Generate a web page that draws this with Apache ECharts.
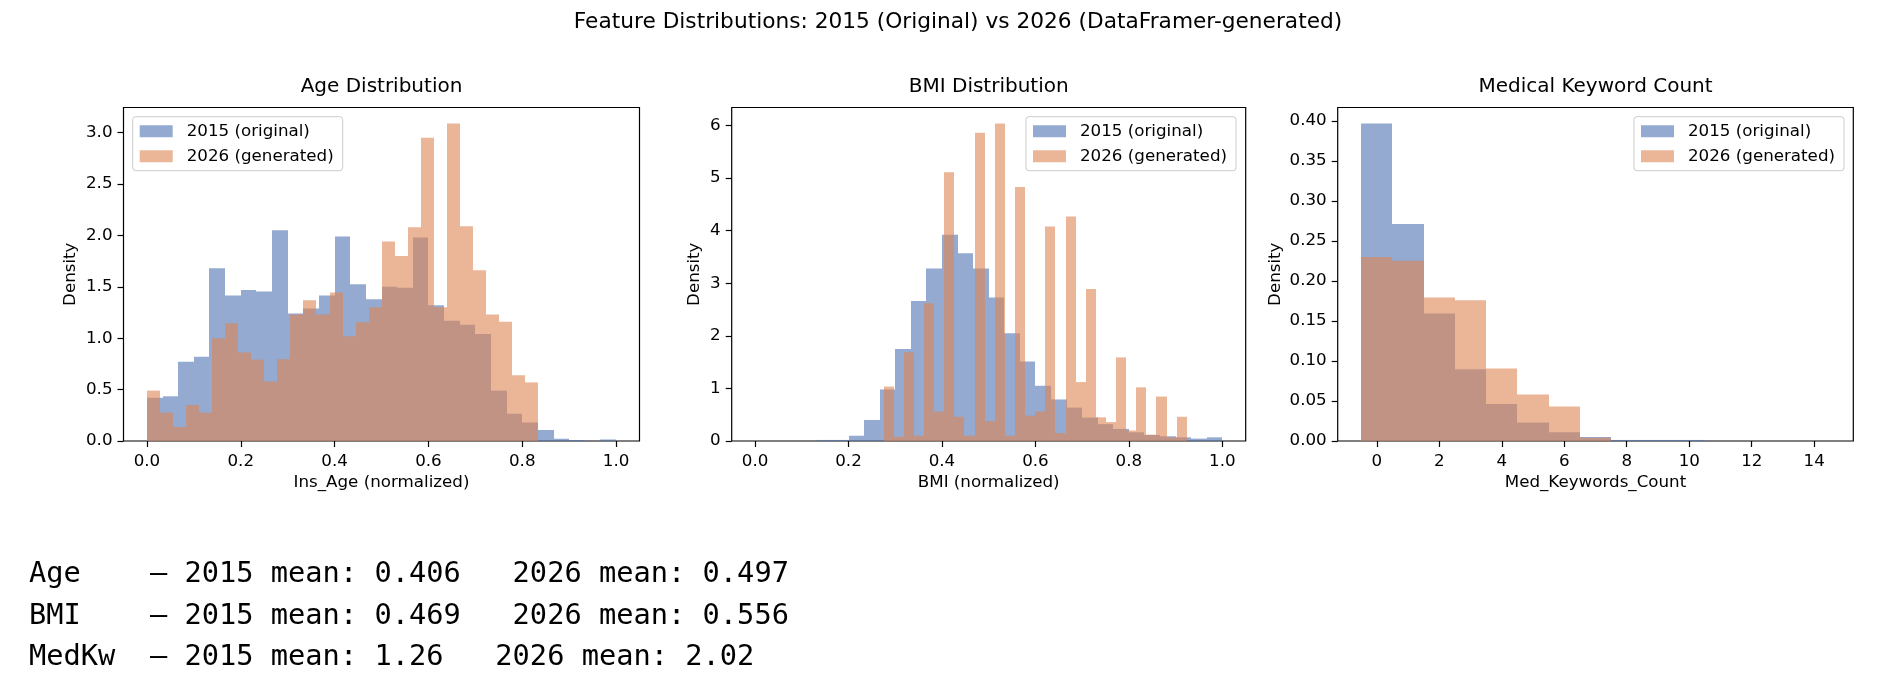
<!DOCTYPE html>
<html>
<head>
<meta charset="utf-8">
<title>Feature Distributions</title>
<script src="https://cdn.jsdelivr.net/npm/echarts@6.0.0/dist/echarts.min.js"></script>
<style>
  html, body { margin: 0; padding: 0; background: #fff; }
  #chart { width: 1892px; height: 690px; }
</style>
</head>
<body>
<div id="chart"></div>
<script>
// density per bin
// Age: 2015 uses 30 bins on [0, 1], 2026 uses 30 bins on [0, 0.834]
var ageRange2015 = [0, 1];
var ageDensity2015 = [0.42, 0.435, 0.77, 0.82, 1.68, 1.415, 1.47, 1.455, 2.05, 1.24,
                      1.29, 1.415, 1.99, 1.525, 1.38, 1.50, 1.49, 1.98, 1.32, 1.17,
                      1.13, 1.04, 0.49, 0.265, 0.18, 0.107, 0.022, 0.01, 0.0, 0.015];
var ageRange2026 = [0, 0.834];
var ageDensity2026 = [0.49, 0.276, 0.136, 0.35, 0.276, 1.00, 1.146, 0.86, 0.79, 0.58,
                      0.795, 1.23, 1.37, 1.23, 1.445, 1.02, 1.156, 1.30, 1.94, 1.80,
                      2.08, 2.95, 1.30, 3.09, 2.09, 1.66, 1.23, 1.16, 0.64, 0.57];

// BMI: 2015 uses 30 bins on [0, 1], 2026 uses 30 bins on [0.275, 0.924]
var bmiRange2015 = [0, 1];
var bmiDensity2015 = [0, 0, 0, 0, 0.02, 0.02, 0.1, 0.4, 0.98, 1.75,
                      2.66, 3.28, 3.92, 3.57, 3.28, 2.73, 2.05, 1.51, 1.05, 0.79,
                      0.635, 0.445, 0.32, 0.23, 0.165, 0.115, 0.09, 0.07, 0.045, 0.07];
var bmiRange2026 = [0.275, 0.924];
var bmiDensity2026 = [1.035, 0.08, 1.69, 0.1, 2.62, 0.56, 5.11, 0.46, 0.1, 5.86,
                      0.38, 6.04, 0.1, 4.83, 0.48, 0.56, 4.08, 0.15, 4.27, 1.12,
                      2.89, 0.45, 0.36, 1.59, 0.2, 1.02, 0.12, 0.845, 0.07, 0.46];

// Medical keyword count: integer bins from -0.5 to 14.5
var medRange = [-0.5, 14.5];
var medDensity2015 = [0.397, 0.2714, 0.1595, 0.0898, 0.0463, 0.023, 0.011, 0.005,
                      0.0013, 0.0013, 0.0013, 0, 0, 0, 0];
var medDensity2026 = [0.230, 0.2255, 0.1795, 0.176, 0.0906, 0.058, 0.043, 0.004,
                      0, 0, 0, 0, 0, 0, 0];

// tick values
var unitTicks = [0, 0.2, 0.4, 0.6, 0.8, 1.0];
var medXTicks = [0, 2, 4, 6, 8, 10, 12, 14];
var ageYTicks = [0, 0.5, 1.0, 1.5, 2.0, 2.5, 3.0];
var bmiYTicks = [0, 1, 2, 3, 4, 5, 6];
var medYTicks = [0, 0.05, 0.10, 0.15, 0.20, 0.25, 0.30, 0.35, 0.40];

// summary text under the plots
var statNames = ['Age', 'BMI', 'MedKw'];
var statMean2015 = ['0.406', '0.469', '1.26'];
var statMean2026 = ['0.497', '0.556', '2.02'];

var NAME_OLD = '2015 (original)';
var NAME_NEW = '2026 (generated)';
var BLUE = 'rgba(76,114,176,0.6)';
var ORANGE = 'rgba(221,132,82,0.6)';
var FONT = 'DejaVu Sans';
var TXT = 16.7;

function toBins(range, heights) {
  var w = (range[1] - range[0]) / heights.length;
  return heights.map(function (h, i) {
    return [range[0] + i * w, range[0] + (i + 1) * w, h];
  });
}

function renderBin(params, api) {
  var top = api.coord([api.value(0), api.value(2)]);
  var base = api.coord([api.value(1), 0]);
  var x0 = Math.round(top[0]), x1 = Math.round(base[0]);
  return {
    type: 'rect',
    shape: { x: x0, y: top[1], width: x1 - x0, height: base[1] - top[1] },
    style: { fill: api.visual('color') }
  };
}

function histSeries(name, idx, range, heights, color) {
  return {
    type: 'custom', name: name, xAxisIndex: idx, yAxisIndex: idx,
    renderItem: renderBin, encode: { x: [0, 1], y: 2 },
    itemStyle: { color: color }, silent: true,
    data: toBins(range, heights)
  };
}

function fmt(d) { return function (v) { return v.toFixed(d); }; }

function xAxisCfg(idx, min, max, ticks, dec, label) {
  return {
    type: 'value', gridIndex: idx, min: min, max: max,
    name: label, nameLocation: 'middle', nameGap: 33,
    nameTextStyle: { fontFamily: FONT, fontSize: TXT, color: '#000' },
    axisLine: { show: false, onZero: false }, splitLine: { show: false },
    axisTick: { show: true, length: 6, customValues: ticks, lineStyle: { color: '#000', width: 1.2 } },
    axisLabel: { customValues: ticks, margin: 12, formatter: fmt(dec),
                 fontFamily: FONT, fontSize: TXT, color: '#000' }
  };
}

function yAxisCfg(idx, max, ticks, dec, gap) {
  return {
    type: 'value', gridIndex: idx, min: 0, max: max,
    name: 'Density', nameLocation: 'middle', nameGap: gap,
    nameTextStyle: { fontFamily: FONT, fontSize: TXT, color: '#000' },
    axisLine: { show: false, onZero: false }, splitLine: { show: false },
    axisTick: { show: true, length: 6, customValues: ticks, lineStyle: { color: '#000', width: 1.2 } },
    axisLabel: { customValues: ticks, margin: 11, formatter: fmt(dec),
                 fontFamily: FONT, fontSize: TXT, color: '#000' }
  };
}

function legendCfg(left) {
  return {
    orient: 'vertical', left: left, top: 116.7, selectedMode: false,
    data: [NAME_OLD, NAME_NEW], icon: 'rect',
    itemWidth: 33, itemHeight: 12, itemGap: 8,
    padding: [6, 9, 6, 7],
    backgroundColor: 'rgba(255,255,255,0.8)', borderColor: '#cccccc',
    borderWidth: 1, borderRadius: 3,
    textStyle: { fontFamily: FONT, fontSize: TXT, color: '#000', padding: [0, 0, 0, 9] }
  };
}

function subTitle(text, cx) {
  return { text: text, left: cx, top: 77, textAlign: 'center', padding: 0,
           textStyle: { fontFamily: FONT, fontSize: 20, fontWeight: 'normal', color: '#000' } };
}

var gridBox = { top: 107.5, height: 333.5, show: true, borderColor: '#000', borderWidth: 1.2,
                backgroundColor: 'transparent', outerBoundsMode: 'none' };
var grids = [
  Object.assign({ left: 123.5, width: 516 }, gridBox),
  Object.assign({ left: 731.7, width: 514 }, gridBox),
  Object.assign({ left: 1337.7, width: 515.6 }, gridBox)
];

var statText = statNames.map(function (n, i) {
  var label = (n + '       ').slice(0, 7);
  return {
    type: 'text', x: 29, y: 575 + i * 41.5,
    style: { text: label + '\u2014 2015 mean: ' + statMean2015[i] + '   2026 mean: ' + statMean2026[i],
             fontFamily: 'DejaVu Sans Mono', fontSize: 28.7, fill: '#000', verticalAlign: 'middle' }
  };
});

var chart = echarts.init(document.getElementById('chart'), null, { renderer: 'canvas' });
chart.setOption({
  animation: false,
  backgroundColor: '#fff',
  title: [
    { text: 'Feature Distributions: 2015 (Original) vs 2026 (DataFramer-generated)',
      left: 958, top: 11, textAlign: 'center', padding: 0,
      textStyle: { fontFamily: FONT, fontSize: 21.7, fontWeight: 'normal', color: '#000' } },
    subTitle('Age Distribution', 381.5),
    subTitle('BMI Distribution', 988.7),
    subTitle('Medical Keyword Count', 1595.5)
  ],
  legend: [legendCfg(132.7), legendCfg(1026), legendCfg(1634)],
  grid: grids,
  xAxis: [
    xAxisCfg(0, -0.05, 1.05, unitTicks, 1, 'Ins_Age (normalized)'),
    xAxisCfg(1, -0.05, 1.05, unitTicks, 1, 'BMI (normalized)'),
    xAxisCfg(2, -1.25, 15.25, medXTicks, 0, 'Med_Keywords_Count')
  ],
  yAxis: [
    yAxisCfg(0, 3.2445, ageYTicks, 1, 44),
    yAxisCfg(1, 6.342, bmiYTicks, 0, 29),
    yAxisCfg(2, 0.417, medYTicks, 2, 54)
  ],
  series: [
    histSeries(NAME_OLD, 0, ageRange2015, ageDensity2015, BLUE),
    histSeries(NAME_NEW, 0, ageRange2026, ageDensity2026, ORANGE),
    histSeries(NAME_OLD, 1, bmiRange2015, bmiDensity2015, BLUE),
    histSeries(NAME_NEW, 1, bmiRange2026, bmiDensity2026, ORANGE),
    histSeries(NAME_OLD, 2, medRange, medDensity2015, BLUE),
    histSeries(NAME_NEW, 2, medRange, medDensity2026, ORANGE)
  ],
  graphic: statText
});
</script>
</body>
</html>
